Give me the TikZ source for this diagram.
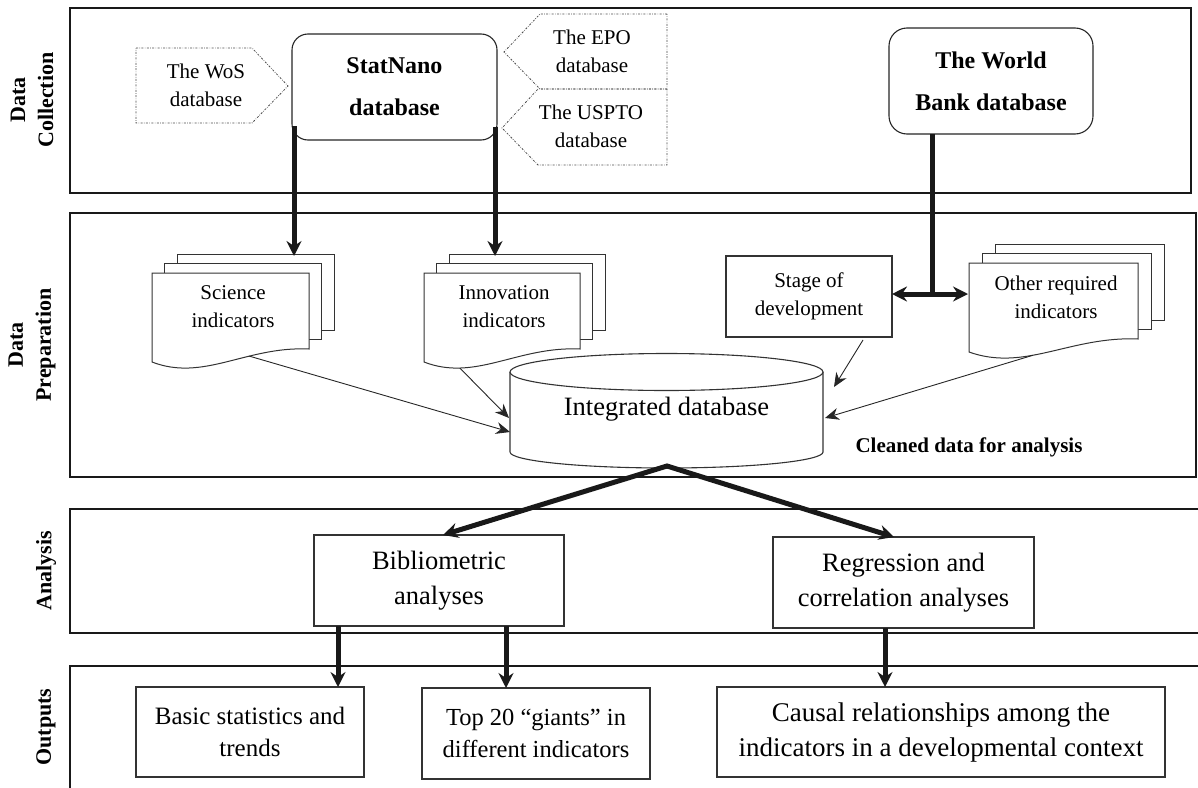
\documentclass[tikz,border=0pt]{standalone}
\usepackage{fontspec}
\setmainfont{Liberation Serif}
\usetikzlibrary{arrows.meta,calc}
\newcommand\docstack[6]{%
  \draw[doc] ({#2+2*#5},{#3-2*#6}) rectangle ({#2+#4+2*#5},{#3+76-2*#6});
  \draw[doc] ({#2+#5},{#3-#6}) rectangle ({#2+#4+#5},{#3+76-#6});
  \draw[doc] (#2,#3) -- ({#2+#4},#3) -- ({#2+#4},{#3+76})
     .. controls ({#2+0.6*#4},{#3+73}) and ({#2+0.33*#4},{#3+109}) .. (#2,{#3+89})
     coordinate[pos=0.35] (#1-b1) coordinate[pos=0.6] (#1-b2) coordinate[pos=0.76] (#1-b3)
     -- cycle;
}
\begin{document}
\begin{tikzpicture}[x=1pt,y=-1pt,
  panel/.style={draw=black!90, line width=2.4pt},
  doc/.style={draw=black!80, line width=1pt, fill=white},
  box/.style={draw=black!80, line width=1.1pt, fill=white},
  rbox/.style={draw=black!85, line width=1.1pt, fill=white, rounded corners=16pt},
  dotb/.style={draw=black!70, line width=0.8pt, dash pattern=on 2pt off 1.4pt on 0.6pt off 1.4pt},
  txt/.style={font=\fontsize{21}{28}\selectfont, align=center, inner sep=0pt},
  big/.style={font=\fontsize{26.5}{35}\selectfont, align=center, inner sep=0pt},
  btxt/.style={font=\bfseries\fontsize{24}{42}\selectfont, align=center, inner sep=0pt},
  side/.style={font=\bfseries\fontsize{22}{28}\selectfont, align=center, rotate=90, inner sep=0pt},
  flow/.style={draw=black!90, line width=5pt, -{Stealth[length=15pt,width=15pt,inset=5pt]}},
  flow2/.style={draw=black!90, line width=5pt, {Stealth[length=15pt,width=15pt,inset=5pt]}-{Stealth[length=15pt,width=15pt,inset=5pt]}},
  thin/.style={draw=black!85, line width=0.9pt, -{Stealth[length=14pt,width=12pt,inset=4.5pt]}}]
\useasboundingbox (0,0) rectangle (1198,787);
\clip (0,0) rectangle (1198,787);

% panels
\draw[panel] (70,8) rectangle (1191,193);
\draw[panel] (70,213) rectangle (1196,477);
\draw[panel] (70,509) rectangle (1215,633);
\draw[panel] (70,666) rectangle (1215,800);

% side labels
\node[side] (lab1) at (32,100) {Data\\Collection};
\node[side] (lab2) at (32,345) {Data\\Preparation};
\node[side] (lab3) at (46,571) {Analysis};
\node[side] (lab4) at (46,727) {Outputs};

% data collection
\draw[dotb] (136,48) -- (252,48) -- (288,86) -- (252,123) -- (136,123) -- cycle;
\node[txt] (wos) at (206,85.5) {The WoS\\database};
\draw[dotb] (667,14) -- (540,14) -- (504,52) -- (540,89) -- (667,89) -- cycle;
\node[txt] (epo) at (592,51) {The EPO\\database};
\draw[dotb] (667,89) -- (538,89) -- (502,128) -- (538,165) -- (667,165) -- cycle;
\node[txt] (uspto) at (591,126.5) {The USPTO\\database};
\node[rbox, btxt, minimum width=205pt, minimum height=106pt] (sn) at (394.5,87) {StatNano\\database};
\node[rbox, btxt, minimum width=204pt, minimum height=106pt, rounded corners=18pt] (wb) at (991,81) {The World\\Bank database};

% data preparation
\docstack{sci}{152}{273}{157}{12.5}{9.5}
\node[txt] (sci) at (233,307) {Science\\indicators};
\docstack{inn}{424}{273}{156}{12.5}{9.5}
\node[txt] (inn) at (504,307) {Innovation\\indicators};
\docstack{oth}{969}{263}{169}{13}{9.5}
\node[txt] (oth) at (1056,297.5) {Other required\\indicators};
\node[box, txt, minimum width=166pt, minimum height=81pt] (stage) at (809,296.5) {Stage of\\development};

% cylinder
\path[fill=white] (510,372) -- (510,452) arc[start angle=180,end angle=0,x radius=156.5,y radius=16] -- (823,372) -- cycle;
\draw[box, fill=none] (510,372) -- (510,452) arc[start angle=180,end angle=0,x radius=156.5,y radius=16] -- (823,372);
\draw[box] (666.5,372) ellipse[x radius=156.5, y radius=18.5];
\node[big, minimum width=313pt, minimum height=115pt] (idb) at (666.5,409) {Integrated database};
\node[font=\bfseries\fontsize{21}{26}\selectfont, inner sep=0pt] (clean) at (969,447) {Cleaned data for analysis};

% coordinates
\coordinate (sn-l) at (294,126);
\coordinate (sn-r) at (495,127);
\coordinate (sci-t) at (294,256);
\coordinate (inn-t) at (495,256);
\coordinate (wb-b) at (932,134);
\coordinate (jn) at (932,294);
\coordinate (stage-r) at (892,294);
\coordinate (oth-l) at (968,294);
\coordinate (stage-b) at (863,340);
\coordinate (idb-l1) at (510,432);
\coordinate (idb-l2) at (509,418);
\coordinate (idb-r1) at (834,387);
\coordinate (idb-r2) at (825,418);
\coordinate (idb-b) at (667,466);

% analysis
\node[box, big, minimum width=250pt, minimum height=91pt] (bib) at (439,580.5) {Bibliometric\\analyses};
\node[box, big, minimum width=261pt, minimum height=91pt] (reg) at (903.5,582.5) {Regression and\\correlation analyses};
\coordinate (bib-t) at (443,535);
\coordinate (reg-t) at (894,537);
\coordinate (bib-b1) at (338,626);
\coordinate (bib-b2) at (506,626);
\coordinate (reg-b) at (885,628);

% outputs
\node[box, font=\fontsize{25}{32}\selectfont, align=center, inner sep=0pt, minimum width=228pt, minimum height=90pt] (o1) at (250,732) {Basic statistics and\\trends};
\node[box, font=\fontsize{24.5}{32}\selectfont, align=center, inner sep=0pt, minimum width=228pt, minimum height=91pt] (o2) at (536,733.5) {Top 20 “giants” in\\different indicators};
\node[box, font=\fontsize{27}{35}\selectfont, align=center, inner sep=0pt, minimum width=448pt, minimum height=90pt] (o3) at (941,732) {Causal relationships among the\\indicators in a developmental context};
\coordinate (o1-t) at (338,687);
\coordinate (o2-t) at (506,688);
\coordinate (o3-t) at (885,687);

% connectors
\draw[flow] (sn-l) -- (sci-t);
\draw[flow] (sn-r) -- (inn-t);
\draw[draw=black!90, line width=5pt] (wb-b) -- (jn);
\draw[flow2] (stage-r) -- (oth-l);
\draw[thin] (sci-b1) -- (idb-l1);
\draw[thin] (inn-b3) -- (idb-l2);
\draw[thin] (stage-b) -- (idb-r1);
\draw[thin] (oth-b2) -- (idb-r2);
\draw[flow2, line join=miter] (bib-t) -- (idb-b) -- (reg-t);
\draw[flow] (bib-b1) -- (o1-t);
\draw[flow] (bib-b2) -- (o2-t);
\draw[flow] (reg-b) -- (o3-t);
\end{tikzpicture}
\end{document}
